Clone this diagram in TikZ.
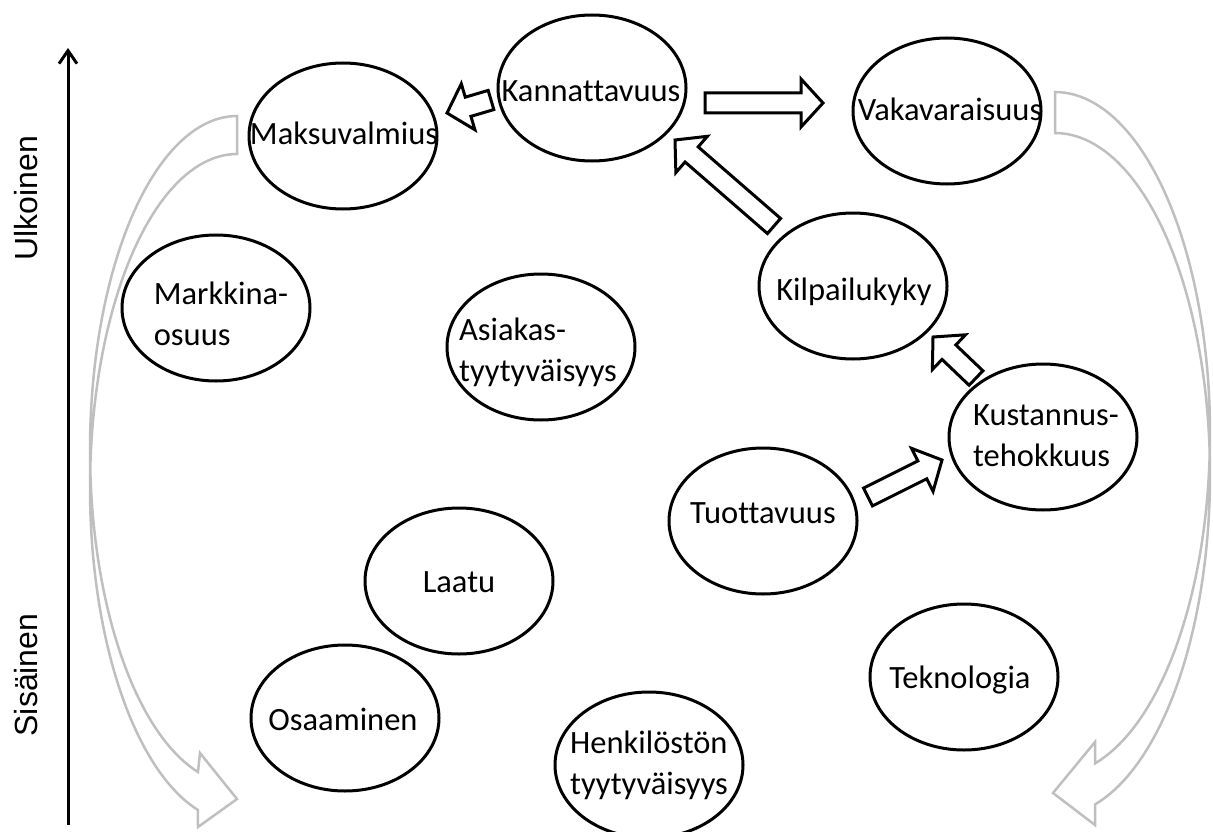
\documentclass[tikz,border=0pt]{standalone}
\usepackage{fontspec}
\setmainfont[Ligatures=NoCommon]{Carlito}
\newfontfamily\axisfont{Liberation Sans}
\usetikzlibrary{calc,arrows.meta,shapes.geometric}

% Hollow block arrow from #1 (tail centre) to #2 (tip)
\newcommand\fatarrow[2]{%
  \draw[fat] let \p1=(#1), \p2=(#2),
      \n1={veclen(\x2-\x1,\y2-\y1)},
      \n2={(\x2-\x1)/\n1}, \n3={(\y2-\y1)/\n1}
    in ({\x1-\n3*10},{\y1+\n2*10})
    -- ({\x1+\n2*(\n1-22)-\n3*10},{\y1+\n3*(\n1-22)+\n2*10})
    -- ({\x1+\n2*(\n1-22)-\n3*24},{\y1+\n3*(\n1-22)+\n2*24})
    -- (\x2,\y2)
    -- ({\x1+\n2*(\n1-22)+\n3*24},{\y1+\n3*(\n1-22)-\n2*24})
    -- ({\x1+\n2*(\n1-22)+\n3*10},{\y1+\n3*(\n1-22)-\n2*10})
    -- ({\x1+\n3*10},{\y1-\n2*10}) -- cycle;}

\begin{document}
\begin{tikzpicture}[x=1pt,y=-1pt,
  oval/.style={ellipse, draw=black, line width=3pt,
    minimum width=188pt, minimum height=146pt, inner sep=0pt},
  lbl/.style={font=\fontsize{32.5}{41}\selectfont, inner sep=0pt, align=center},
  lblL/.style={lbl, align=left},
  axlbl/.style={font=\axisfont\fontsize{32}{38}\selectfont, inner sep=0pt, rotate=90},
  fat/.style={draw=black, line width=3pt, fill=white, line join=miter},
  greyband/.style={draw=black!25, line width=2.5pt, line join=miter}]
\useasboundingbox (0,0) rectangle (1213,832);

% vertical axis: internal (bottom) to external (top)
\coordinate (axb) at (68,825);
\coordinate (axt) at (68,48);
\draw[line width=3pt, -{Straight Barb[length=13pt,width=18pt]}] (axb) -- (axt);
\node[axlbl] (ulk) at (26,198) {Ulkoinen};
\node[axlbl] (sis) at (26,675) {Sisäinen};

% grey curved arrows on both sides
\draw[greyband] (237,116)
  -- plot[domain=270:105.4, samples=90, variable=\t] ({237+147*cos(\t)},{450+334*sin(\t)})
  -- (200,753) -- (237,799) -- (198,827)
  -- plot[domain=105.4:270, samples=90, variable=\t] ({237+147*cos(\t)},{488+334*sin(\t)})
  -- cycle;
\draw[greyband] (1055,92)
  -- plot[domain=-90:75, samples=90, variable=\t] ({1055+155*cos(\t)},{433.5+341.5*sin(\t)})
  -- (1095,742) -- (1053,793) -- (1095,825)
  -- plot[domain=75:-90, samples=90, variable=\t] ({1055+155*cos(\t)},{474.5+341.5*sin(\t)})
  -- cycle;

% factors
\node[oval] (mak) at (343,136) {};
\node[lbl]  (mak-t) at (344,133) {Maksuvalmius};
\node[oval] (kan) at (592,88) {};
\node[lbl]  (kan-t) at (591,91) {Kannattavuus};
\node[oval] (vak) at (947,111) {};
\node[lbl]  (vak-t) at (950,109) {Vakavaraisuus};
\node[oval] (kil) at (853,286) {};
\node[lbl]  (kil-t) at (854,292) {Kilpailukyky};
\node[oval] (kus) at (1043,437) {};
\node[lblL] (kus-t) at (1046,436) {Kustannus-\\tehokkuus};
\node[oval] (mar) at (216,308) {};
\node[lblL] (mar-t) at (221,314) {Markkina-\\osuus};
\node[oval] (asi) at (541,347) {};
\node[lblL] (asi-t) at (538,352) {Asiakas-\\tyytyväisyys};
\node[oval] (laa) at (459,581) {};
\node[lbl]  (laa-t) at (459,582) {Laatu};
\node[oval] (tuo) at (763,521) {};
\node[lbl]  (tuo-t) at (763,513) {Tuottavuus};
\node[oval] (osa) at (345,718) {};
\node[lbl]  (osa-t) at (343,719) {Osaaminen};
\node[oval] (hen) at (649,765) {};
\node[lblL] (hen-t) at (649,765) {Henkilöstön\\tyytyväisyys};
\node[oval] (tek) at (964,677) {};
\node[lbl]  (tek-t) at (960,680) {Teknologia};

% block arrows between factors
\coordinate (a1s) at ($(kan.center)+(-101,12)$);
\coordinate (a1e) at ($(mak.center)+(104,-23)$);
\coordinate (a2s) at ($(kan.center)+(113,15)$);
\coordinate (a2e) at ($(vak.center)+(-124,-8)$);
\coordinate (a3s) at ($(kil.center)+(-79,-60)$);
\coordinate (a3e) at ($(kan.center)+(83,52)$);
\coordinate (a4s) at ($(kus.center)+(-67,-59)$);
\coordinate (a4e) at ($(kil.center)+(80,51)$);
\coordinate (a5s) at ($(tuo.center)+(105,-24)$);
\coordinate (a5e) at ($(kus.center)+(-101,23)$);
\fatarrow{a1s}{a1e}
\fatarrow{a2s}{a2e}
\fatarrow{a3s}{a3e}
\fatarrow{a4s}{a4e}
\fatarrow{a5s}{a5e}
\end{tikzpicture}
\end{document}
